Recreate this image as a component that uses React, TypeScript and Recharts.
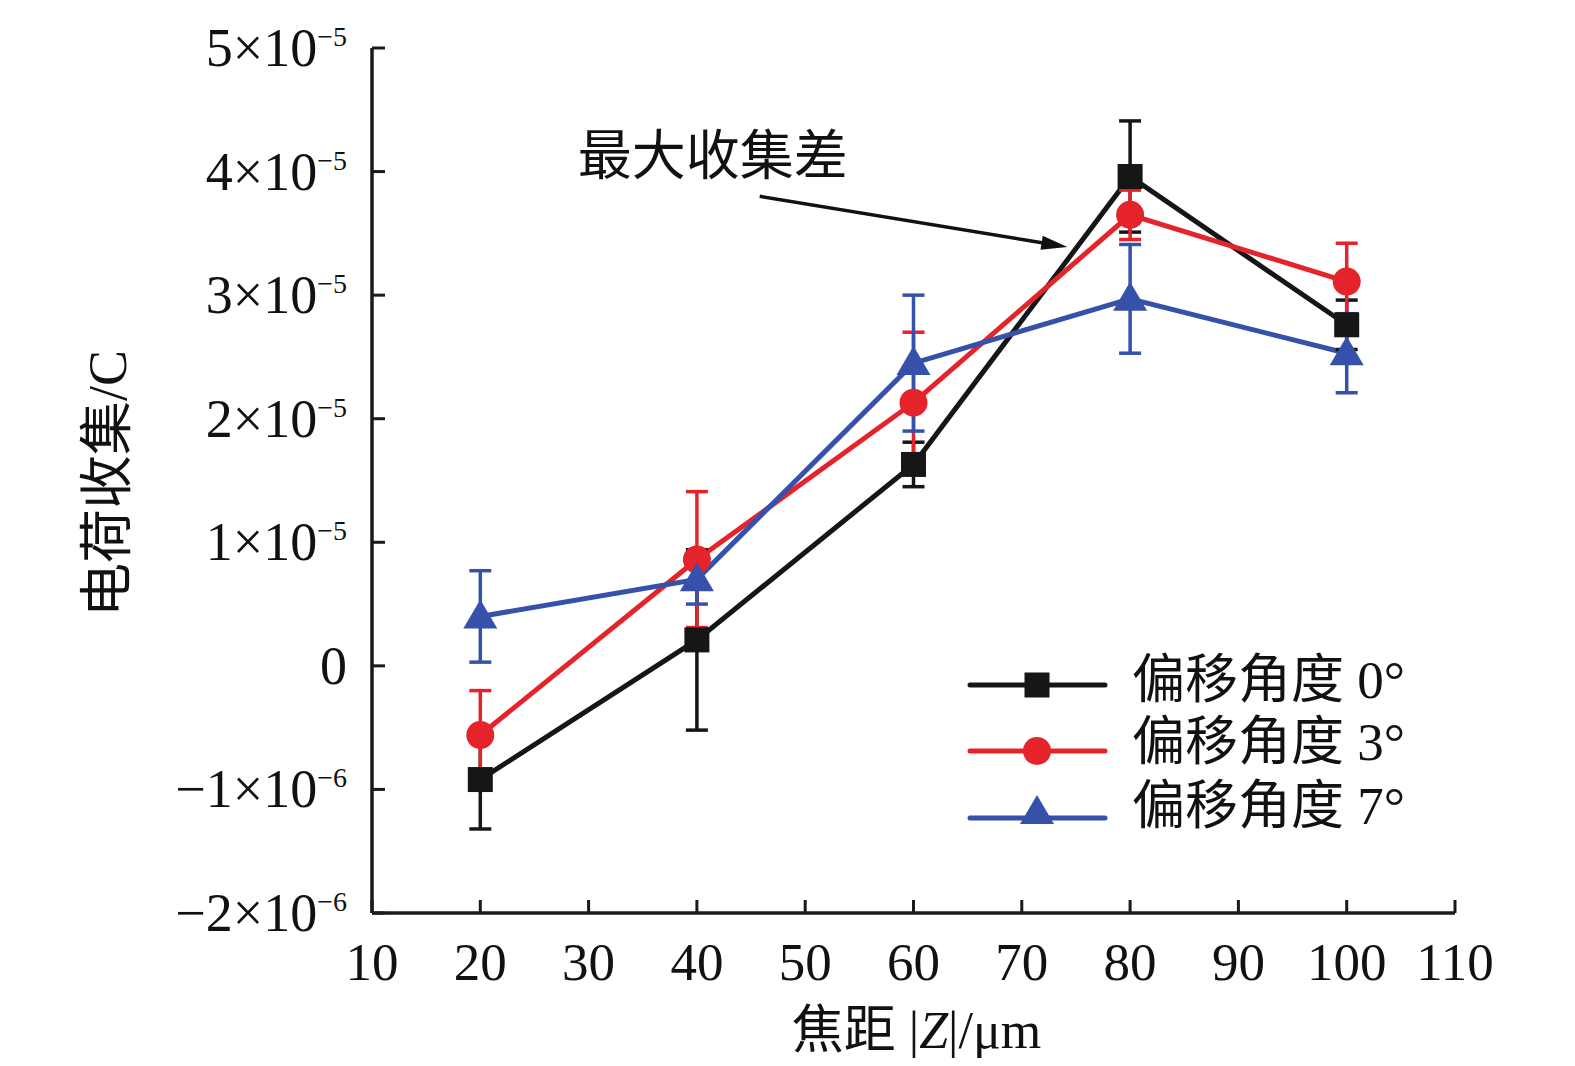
import React from 'react';
import { LineChart, Line, XAxis, YAxis, ErrorBar, Legend, ReferenceLine, Label } from 'recharts';

// ---- data (values in the chart's tick units: one unit per labelled y tick) ----
const focalDistances = [20, 40, 60, 80, 100];
const angle0Values = [-0.92, 0.21, 1.63, 3.96, 2.76];
const angle0Errors = [0.4, 0.73, 0.18, 0.45, 0.2];
const angle3Values = [-0.56, 0.86, 2.13, 3.65, 3.11];
const angle3Errors = [0.36, 0.55, 0.57, 0.2, 0.31];
const angle7Values = [0.4, 0.7, 2.45, 2.97, 2.53];
const angle7Errors = [0.37, 0.2, 0.55, 0.44, 0.32];

const seriesNames = ['偏移角度 0°', '偏移角度 3°', '偏移角度 7°'];
const xTicks = [10, 20, 30, 40, 50, 60, 70, 80, 90, 100, 110];
const yTicks = [-2, -1, 0, 1, 2, 3, 4, 5];
const yTickMantissa = ['−2×10', '−1×10', '0', '1×10', '2×10', '3×10', '4×10', '5×10'];
const yTickExponent = ['−6', '−6', '', '−5', '−5', '−5', '−5', '−5'];
const xTitleParts = ['焦距 |', 'Z', '|/μm'];
const yTitle = '电荷收集/C';
const annotationText = '最大收集差';
const arrowStart = { x: 45.8, y: 3.8 };
const arrowEnd = { x: 74.2, y: 3.39 };

const COLORS = ['#161616', '#e5232b', '#3551aa'];
const SERIF = "'Liberation Serif', 'Times New Roman', serif";
const CJK = "'Liberation Serif', 'Noto Sans CJK SC', serif";
const AXIS = '#1a1a1a';

const data = focalDistances.map((z, i) => ({
  z,
  a0: angle0Values[i],
  e0: angle0Errors[i],
  a3: angle3Values[i],
  e3: angle3Errors[i],
  a7: angle7Values[i],
  e7: angle7Errors[i],
}));

const SquareMark = ({ cx, cy, color }: any) => (
  <rect x={cx - 12.5} y={cy - 12.5} width={25} height={25} fill={color} />
);
const CircleMark = ({ cx, cy, color }: any) => <circle cx={cx} cy={cy} r={14} fill={color} />;
const TriangleMark = ({ cx, cy, color }: any) => (
  <polygon points={`${cx},${cy - 17} ${cx - 17},${cy + 12} ${cx + 17},${cy + 12}`} fill={color} />
);
const MARKS = [SquareMark, CircleMark, TriangleMark];

const makeDot = (idx: number) => (props: any) => {
  const M = MARKS[idx];
  if (props.cx == null || props.cy == null) return <g key={`n-${idx}-${props.index}`} />;
  return <M key={`d-${idx}-${props.index}`} cx={props.cx} cy={props.cy} color={COLORS[idx]} />;
};

const XTick = ({ x, y, payload }: any) => (
  <g>
    <line x1={x} x2={x} y1={y} y2={y - 13} stroke={AXIS} strokeWidth={3} />
    <text x={x} y={y + 67} textAnchor="middle" fontSize={53} fontFamily={SERIF} fill="#111">
      {payload.value}
    </text>
  </g>
);

const YTick = ({ x, y, payload }: any) => {
  const i = yTicks.indexOf(payload.value);
  return (
    <g>
      <line x1={x} x2={x + 13} y1={y} y2={y} stroke={AXIS} strokeWidth={3} />
      <text x={x - 25} y={y + 18} textAnchor="end" fontSize={54} fontFamily={SERIF} fill="#111">
        <tspan>{yTickMantissa[i]}</tspan>
        {yTickExponent[i] ? (
          <tspan dy={-20} fontSize={28}>
            {yTickExponent[i]}
          </tspan>
        ) : null}
      </text>
    </g>
  );
};

const XTitle = ({ viewBox }: any) => {
  const cx = viewBox.x + viewBox.width / 2 + 3;
  const y = viewBox.y + 135;
  return (
    <text x={cx} y={y} textAnchor="middle" fontSize={52} fontFamily={CJK} fill="#111">
      <tspan>{xTitleParts[0]}</tspan>
      <tspan fontStyle="italic">{xTitleParts[1]}</tspan>
      <tspan>{xTitleParts[2]}</tspan>
    </text>
  );
};

const YTitle = ({ viewBox }: any) => {
  const cx = viewBox.x + 100;
  const cy = viewBox.y + viewBox.height / 2 + 3;
  return (
    <text
      x={cx}
      y={cy}
      transform={`rotate(-90, ${cx}, ${cy})`}
      textAnchor="middle"
      dominantBaseline="central"
      fontSize={54}
      fontFamily={CJK}
      fill="#111"
    >
      {yTitle}
    </text>
  );
};

const ArrowShape = (props: any) => {
  const { x1, y1, x2, y2 } = props;
  const dx = x2 - x1;
  const dy = y2 - y1;
  const len = Math.sqrt(dx * dx + dy * dy);
  const ux = dx / len;
  const uy = dy / len;
  const headLen = 26;
  const headHalf = 7;
  const bx = x2 - ux * headLen;
  const by = y2 - uy * headLen;
  return (
    <g>
      <line x1={x1} y1={y1} x2={bx + ux * 2} y2={by + uy * 2} stroke="#111" strokeWidth={3.5} />
      <polygon
        points={`${x2},${y2} ${bx - uy * headHalf},${by + ux * headHalf} ${bx + uy * headHalf},${by - ux * headHalf}`}
        fill="#111"
      />
      <text
        x={x1 - 182}
        y={y1 - 39}
        dominantBaseline="central"
        fontSize={54}
        fontFamily={CJK}
        fill="#111"
      >
        {annotationText}
      </text>
    </g>
  );
};

const LegendContent = () => {
  const lineYs = [45, 111, 178];
  const textYs = [40, 102, 166];
  return (
    <svg width={470} height={210} style={{ display: 'block' }}>
      {seriesNames.map((name, i) => {
        const M = MARKS[i];
        return (
          <g key={name}>
            <line x1={20} x2={155} y1={lineYs[i]} y2={lineYs[i]} stroke={COLORS[i]} strokeWidth={5} strokeLinecap="round" />
            <M cx={87} cy={i === 2 ? lineYs[i] - 6 : lineYs[i]} color={COLORS[i]} />
            <text x={182} y={textYs[i]} dominantBaseline="central" fontSize={53} fontFamily={CJK} fill="#111">
              {name}
            </text>
          </g>
        );
      })}
    </svg>
  );
};

export default function App() {
  const keys = ['a0', 'a3', 'a7'];
  const errs = ['e0', 'e3', 'e7'];
  return (
    <div style={{ width: 1559, height: 1050, background: '#fff' }}>
      <LineChart width={1559} height={1050} data={data} margin={{ top: 40, right: 112, bottom: 65, left: 0 }}>
        <XAxis
          dataKey="z"
          type="number"
          domain={[10, 110]}
          ticks={xTicks}
          interval={0}
          height={80}
          tickSize={0}
          tickMargin={0}
          tickLine={false}
          tick={<XTick />}
          axisLine={{ stroke: AXIS, strokeWidth: 3.5 }}
        >
          <Label content={<XTitle />} />
        </XAxis>
        <YAxis
          type="number"
          domain={[-2, 5]}
          ticks={yTicks}
          interval={0}
          width={364}
          tickSize={0}
          tickMargin={0}
          tickLine={false}
          tick={<YTick />}
          axisLine={{ stroke: AXIS, strokeWidth: 3.5 }}
        >
          <Label content={<YTitle />} />
        </YAxis>
        <ReferenceLine segment={[arrowStart, arrowEnd]} shape={ArrowShape} ifOverflow="visible" />
        {keys.map((k, i) => (
          <Line
            key={k}
            dataKey={k}
            name={seriesNames[i]}
            stroke={COLORS[i]}
            strokeWidth={5}
            dot={makeDot(i)}
            activeDot={false}
            isAnimationActive={false}
          />
        ))}
        {keys.map((k, i) => (
          <Line
            key={`err-${k}`}
            dataKey={k}
            stroke="none"
            dot={false}
            activeDot={false}
            legendType="none"
            isAnimationActive={false}
          >
            <ErrorBar dataKey={errs[i]} direction="y" width={11} strokeWidth={3.5} stroke={COLORS[i]} isAnimationActive={false} />
          </Line>
        ))}
        <Legend
          layout="horizontal"
          verticalAlign="middle"
          align="center"
          content={<LegendContent />}
          wrapperStyle={{ position: 'absolute', left: 942, top: 632, width: 470, height: 210 }}
        />
      </LineChart>
    </div>
  );
}
